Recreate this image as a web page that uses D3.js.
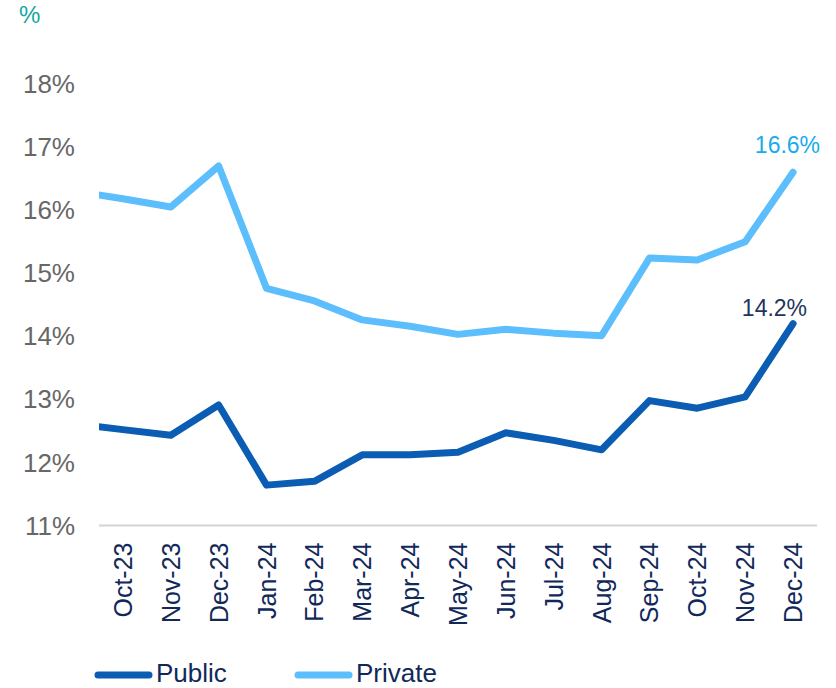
<!DOCTYPE html>
<html>
<head>
<meta charset="utf-8">
<script src="https://cdn.jsdelivr.net/npm/d3@7"></script>
<style>
  html, body { margin: 0; padding: 0; background: #ffffff; }
  svg { display: block; font-family: "Liberation Sans", Arial, sans-serif; }
</style>
</head>
<body>
<svg id="chart" width="836" height="688"></svg>
<script>
// Monthly rates, Oct-23 to Dec-24 (in %); the lead-in value is the Sep-23 reading
// that enters the plot from the left edge.
const months = ["Oct-23","Nov-23","Dec-23","Jan-24","Feb-24","Mar-24","Apr-24","May-24",
                "Jun-24","Jul-24","Aug-24","Sep-24","Oct-24","Nov-24","Dec-24"];
const publicLeadIn = 12.61;
const privateLeadIn = 16.30;
const publicRates  = [12.52, 12.43, 12.91, 11.64, 11.70, 12.12, 12.12, 12.16,
                      12.47, 12.35, 12.20, 12.98, 12.86, 13.04, 14.2];
const privateRates = [16.18, 16.05, 16.70, 14.76, 14.56, 14.26, 14.16, 14.03,
                      14.11, 14.05, 14.01, 15.24, 15.21, 15.50, 16.6];
const yTicks = [11, 12, 13, 14, 15, 16, 17, 18];
const seriesNames = ["Public", "Private"];

const colors = { Public: "#0B5DB3", Private: "#5CBEFC" };
const labelColors = { Public: "#1F355E", Private: "#17ACEB" };

const svg = d3.select("#chart");
const plotLeft = 99, plotRight = 817, plotTop = 84, plotBottom = 525.5;

const x = d3.scaleBand().domain(months).range([plotLeft, plotRight]).padding(0);
const y = d3.scaleLinear().domain([11, 18]).range([plotBottom, plotTop]);
const cx = m => x(m) + x.bandwidth() / 2;

// unit caption
svg.append("text")
  .attr("x", 19).attr("y", 23)
  .attr("fill", "#17A6A3")
  .attr("font-size", 24)
  .text("%");

// y tick labels
svg.append("g").selectAll("text")
  .data(yTicks).join("text")
  .attr("x", 75).attr("y", d => y(d))
  .attr("dy", "0.35em")
  .attr("text-anchor", "end")
  .attr("fill", "#676767")
  .attr("font-size", 26)
  .text(d => d + "%");

// x axis baseline
svg.append("line")
  .attr("x1", plotLeft).attr("x2", plotRight)
  .attr("y1", y(11)).attr("y2", y(11))
  .attr("stroke", "#D4D4D4").attr("stroke-width", 2);

// x category labels, rotated
svg.append("g").selectAll("text")
  .data(months).join("text")
  .attr("transform", d => `translate(${cx(d)},${plotBottom + 17}) rotate(-90)`)
  .attr("dy", "0.36em")
  .attr("text-anchor", "end")
  .attr("fill", "#10295A")
  .attr("font-size", 25)
  .text(d => d);

// clip region so the lead-in segment begins at the plot's left edge
svg.append("clipPath").attr("id", "plotClip")
  .append("rect").attr("x", plotLeft).attr("y", 0).attr("width", 836 - plotLeft).attr("height", 688);

const line = d3.line().x(d => d.x).y(d => y(d.v));

function seriesPoints(leadIn, values) {
  const pts = [{ x: cx(months[0]) - x.step(), v: leadIn }];
  values.forEach((v, i) => pts.push({ x: cx(months[i]), v }));
  return pts;
}

const series = [
  { name: "Private", pts: seriesPoints(privateLeadIn, privateRates) },
  { name: "Public", pts: seriesPoints(publicLeadIn, publicRates) }
];

const plot = svg.append("g").attr("clip-path", "url(#plotClip)");
plot.selectAll("path")
  .data(series).join("path")
  .attr("d", d => line(d.pts))
  .attr("fill", "none")
  .attr("stroke", d => colors[d.name])
  .attr("stroke-width", 7)
  .attr("stroke-linejoin", "round")
  .attr("stroke-linecap", "round");

// end-value labels
const last = months[months.length - 1];
const endLabels = [
  { name: "Private", v: privateRates[privateRates.length - 1], dx: 27, dy: -19 },
  { name: "Public", v: publicRates[publicRates.length - 1], dx: 14, dy: -8 }
];
svg.append("g").selectAll("text")
  .data(endLabels).join("text")
  .attr("x", d => cx(last) + d.dx)
  .attr("y", d => y(d.v) + d.dy)
  .attr("text-anchor", "end")
  .attr("fill", d => labelColors[d.name])
  .attr("font-size", 23)
  .text(d => d3.format(".1f")(d.v) + "%");

// legend
const legend = svg.append("g").selectAll("g")
  .data(seriesNames).join("g")
  .attr("transform", (d, i) => `translate(${98 + i * 200},675)`);
legend.append("line")
  .attr("x1", 0).attr("x2", 51)
  .attr("y1", 0).attr("y2", 0)
  .attr("stroke", d => colors[d])
  .attr("stroke-width", 7)
  .attr("stroke-linecap", "round");
legend.append("text")
  .attr("x", 58).attr("y", 7)
  .attr("fill", "#10295A")
  .attr("font-size", 26)
  .text(d => d);
</script>
</body>
</html>
